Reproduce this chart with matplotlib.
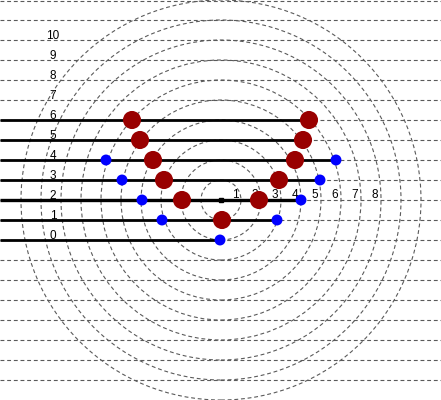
import matplotlib
matplotlib.use("Agg")
import matplotlib.pyplot as plt
from matplotlib.patches import Circle

# ---- data ----
row_labels = [str(i) for i in range(11)]          # left labels 0..10
radial_labels = [str(i) for i in range(1, 9)]      # labels 1..8 along the axis
circle_radii = list(range(1, 11))

rows = [0, 1, 2, 3, 4, 5, 6]
red_x = {
    1: [0.05],
    2: [-1.95, 1.9],
    3: [-2.85, 2.9],
    4: [-3.4, 3.7],
    5: [-4.05, 4.1],
    6: [-4.45, 4.4],
}
blue_x = {
    0: [-0.05],
    1: [-2.95, 2.8],
    2: [-3.95, 4.0],
    3: [-4.95, 4.95],
    4: [-5.75, 5.75],
}
row_offset = -2   # row k is drawn at y = k + row_offset

# ---- figure ----
fig = plt.figure(figsize=(4.41, 4.00), dpi=100)
ax = fig.add_axes([0, 0, 1, 1])
ax.set_xlim(-11.05, 11.0)
ax.set_ylim(-10, 10)
ax.set_aspect("equal")
ax.axis("off")

grid_kw = dict(color="#5a5a5a", lw=0.8, ls=(0, (3.5, 2.5)))
for gy in range(-9, 11):
    yy = min(gy, 9.97)
    ax.axhline(yy, zorder=1, **grid_kw)
for r in circle_radii:
    ax.add_patch(Circle((0, 0), r, fill=False, zorder=1, **grid_kw))

font = ["Liberation Sans", "DejaVu Sans"]
for i, lab in enumerate(row_labels):
    ax.text(-8.4, i + row_offset + 0.2, lab, ha="center", va="center",
            fontsize=8.5, family=font, zorder=2)
for i, lab in enumerate(radial_labels):
    ax.text(i + 1 - 0.3, 0.25, lab, ha="center", va="center",
            fontsize=8.5, family=font, zorder=2)

for k in rows:
    pts = red_x.get(k, []) + blue_x.get(k, [])
    lw = 2.4 if k == 2 else 2.0
    ax.hlines(k + row_offset, -11.05, max(pts), color="black", lw=lw, zorder=3)

for k, xs in blue_x.items():
    ax.scatter(xs, [k + row_offset] * len(xs), s=62, color="#0000ff",
               edgecolors="none", zorder=4)
for k, xs in red_x.items():
    ax.scatter(xs, [k + row_offset] * len(xs), s=170, color="#990000",
               edgecolors="none", zorder=5)

ax.plot([0], [0], "s", ms=3, color="black", zorder=6)

fig.savefig("out.png", dpi=100)
